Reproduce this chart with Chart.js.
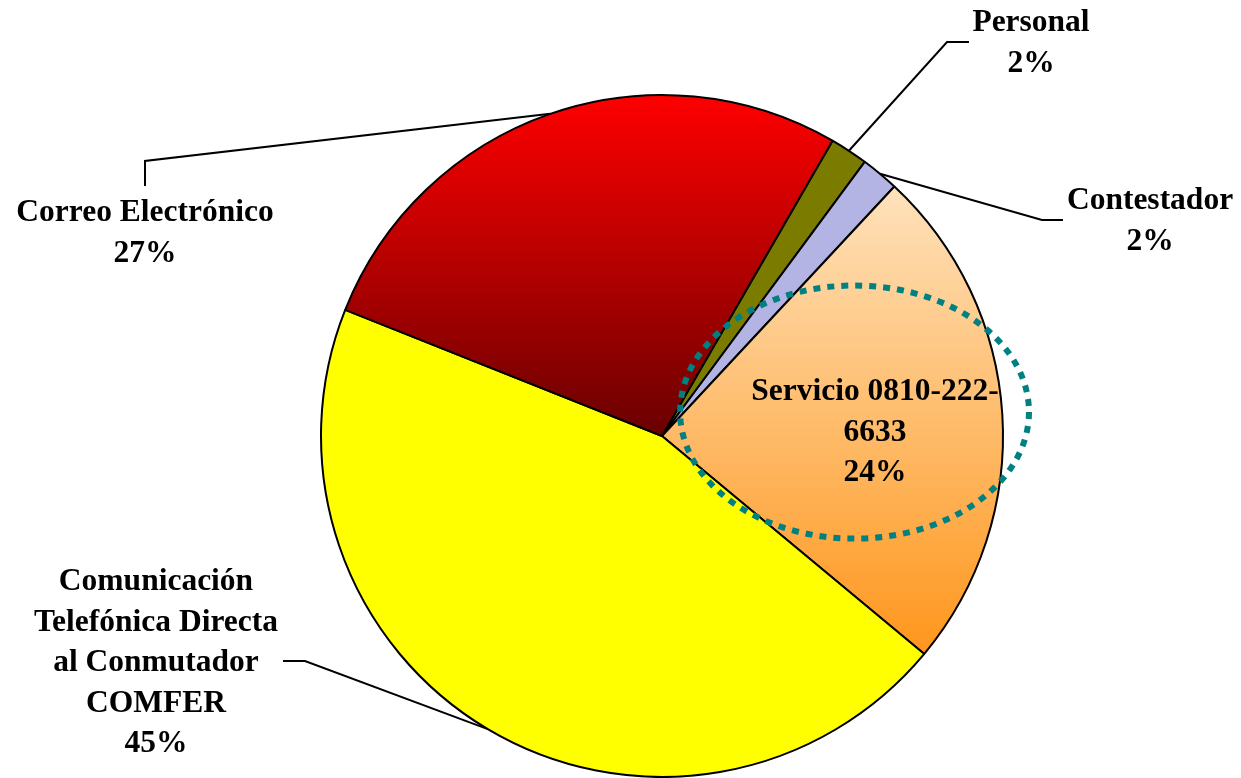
<!DOCTYPE html>
<html>
<head>
<meta charset="utf-8">
<title>Canales de consulta</title>
<script src="https://cdn.jsdelivr.net/npm/chart.js@4.4.0/dist/chart.umd.min.js"></script>
<style>
  html, body { margin: 0; padding: 0; background: #fff; }
  #wrap { width: 1241px; height: 778px; }
</style>
</head>
<body>
<div id="wrap"><canvas id="pieChart" width="1241" height="778"></canvas></div>
<script>
// Chart data (share of each contact channel, %)
const categories = [
    'Personal',
    'Contestador',
    'Servicio 0810-222-6633',
    'Comunicación Telefónica Directa al Conmutador COMFER',
    'Correo Electrónico'
];
const shares = [1.8, 1.8, 24.1, 45.0, 27.3];

// Label text broken into lines as in the original
const labelLines = [
    ['Personal'],
    ['Contestador'],
    ['Servicio 0810-222-', '6633'],
    ['Comunicación', 'Telefónica Directa', 'al Conmutador', 'COMFER'],
    ['Correo Electrónico']
];

// Label placement: text centre x, first line y, optional leader elbow and end
const labelLayout = [
    { x: 1031, y: 23, elbow: [947, 42], end: [969, 42] },
    { x: 1150, y: 201, elbow: [1042, 220], end: [1063, 220] },
    { x: 875, y: 392 },
    { x: 156, y: 582, elbow: [305, 661], end: [283, 661] },
    { x: 145, y: 213, elbow: [145, 161], end: [145, 186] }
];

const FONT = 'bold 31.5px "Liberation Serif", "Times New Roman", serif';
const LINE_HEIGHT = 40.5;

// Dotted highlight round the 0810 service slice (fractions of the radius)
const HIGHLIGHT = { dx: 0.563, dy: -0.07, rx: 0.51, ry: 0.37, color: '#008080' };

function pieGeometry(chart) {
    const a = chart.chartArea;
    return {
        cx: (a.left + a.right) / 2,
        cy: (a.top + a.bottom) / 2,
        r: Math.min(a.right - a.left, a.bottom - a.top) / 2
    };
}

/**
 * Fill for each slice, with gradients for the red and peach ones
 */
function sliceFill(context) {
    const i = context.dataIndex;
    const chart = context.chart;
    const plain = ['#7b7b00', '#b4b4e4', '#fdcf98', '#ffff00', '#c00000'];
    if (!chart.chartArea || (i !== 2 && i !== 4)) return plain[i];
    const g = pieGeometry(chart);
    const ctx = chart.ctx;
    let grad;
    if (i === 4) {
        grad = ctx.createLinearGradient(0, g.cy - g.r, 0, g.cy);
        grad.addColorStop(0, '#ff0000');
        grad.addColorStop(1, '#6a0000');
    } else {
        grad = ctx.createLinearGradient(0, g.cy - 0.73 * g.r, 0, g.cy + 0.64 * g.r);
        grad.addColorStop(0, '#fee2bc');
        grad.addColorStop(1, '#ff961c');
    }
    return grad;
}

const highlightPlugin = {
    id: 'highlight',
    afterDatasetsDraw(chart) {
        const g = pieGeometry(chart);
        const ctx = chart.ctx;
        ctx.save();
        ctx.strokeStyle = HIGHLIGHT.color;
        ctx.lineWidth = 6;
        ctx.setLineDash([7, 7]);
        ctx.beginPath();
        ctx.ellipse(g.cx + HIGHLIGHT.dx * g.r, g.cy + HIGHLIGHT.dy * g.r,
            HIGHLIGHT.rx * g.r, HIGHLIGHT.ry * g.r, 0, 0, Math.PI * 2);
        ctx.stroke();
        ctx.restore();
    }
};

const labelPlugin = {
    id: 'sliceLabels',
    afterDatasetsDraw(chart) {
        const ctx = chart.ctx;
        const arcs = chart.getDatasetMeta(0).data;
        const total = shares.reduce((s, v) => s + v, 0);
        ctx.save();
        arcs.forEach((arc, i) => {
            const lay = labelLayout[i];
            if (lay.elbow) {
                const p = arc.getProps(['x', 'y', 'startAngle', 'endAngle', 'outerRadius'], true);
                const mid = (p.startAngle + p.endAngle) / 2;
                ctx.strokeStyle = '#000';
                ctx.lineWidth = 2;
                ctx.beginPath();
                ctx.moveTo(p.x + Math.cos(mid) * p.outerRadius, p.y + Math.sin(mid) * p.outerRadius);
                ctx.lineTo(lay.elbow[0], lay.elbow[1]);
                ctx.lineTo(lay.end[0], lay.end[1]);
                ctx.stroke();
            }
            const lines = labelLines[i].concat([Math.round(shares[i] / total * 100) + '%']);
            ctx.font = FONT;
            ctx.fillStyle = '#000';
            ctx.textAlign = 'center';
            ctx.textBaseline = 'middle';
            lines.forEach((t, k) => ctx.fillText(t, lay.x, lay.y + k * LINE_HEIGHT));
        });
        ctx.restore();
    }
};

new Chart(document.getElementById('pieChart'), {
    type: 'pie',
    data: {
        labels: categories,
        datasets: [{
            data: shares,
            backgroundColor: sliceFill,
            borderColor: '#000',
            borderWidth: 2,
            hoverOffset: 0
        }]
    },
    options: {
        responsive: false,
        animation: false,
        rotation: 30,
        layout: { padding: { left: 320, top: 94, right: 237, bottom: 0 } },
        plugins: {
            legend: { display: false },
            tooltip: { enabled: false }
        },
        events: []
    },
    plugins: [highlightPlugin, labelPlugin]
});
</script>
</body>
</html>
